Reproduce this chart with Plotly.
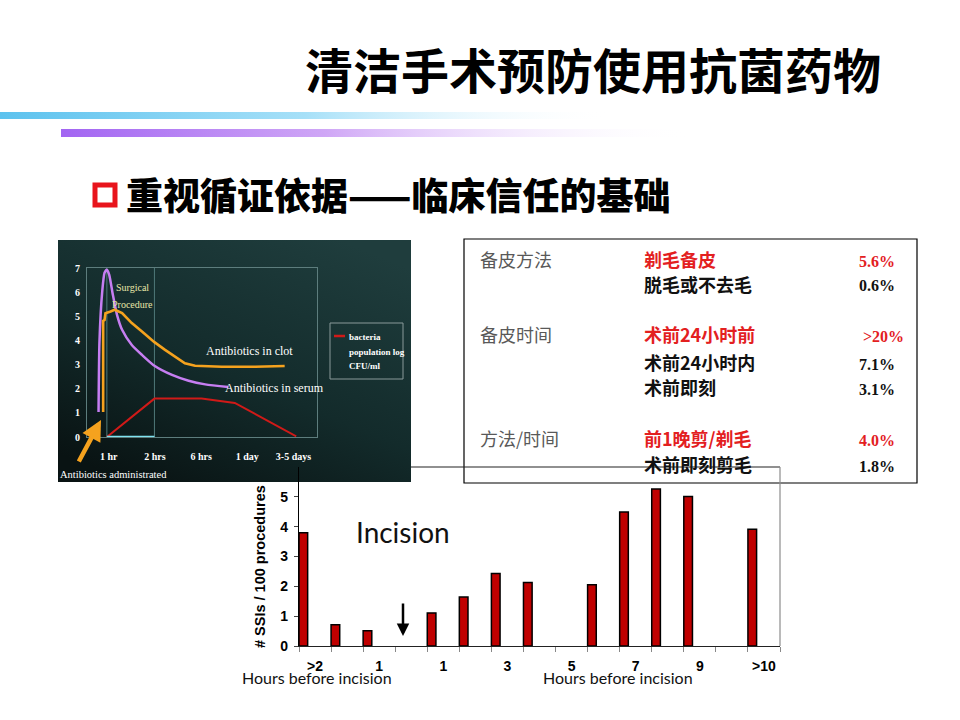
import base64
import plotly.graph_objects as go

W, H = 960, 720

# ---------------- data ----------------
# Bar chart: # SSIs / 100 procedures by timing slot
slot_index = [0, 1, 2, 4, 5, 6, 7, 9, 10, 11, 12, 14]
ssi_values = [3.8, 0.71, 0.51, 1.11, 1.64, 2.43, 2.13, 2.05, 4.49, 5.26, 5.01, 3.91]
slot_label_pos = [0.5, 2.5, 4.5, 6.5, 8.5, 10.5, 12.5, 14.5]
slot_labels = [">2", "1", "1", "3", "5", "7", "9", ">10"]
y_ticks = [0, 1, 2, 3, 4, 5]

# Inset chart: time categories
time_labels = ["1 hr", "2 hrs", "6 hrs", "1 day", "3-5 days"]
time_pos = [0, 1, 2, 3, 4]
serum_x = [-0.22, -0.20, -0.14, -0.09, -0.04, 0.01, 0.09, 0.18, 0.29, 0.50, 0.72, 0.99, 1.37, 1.73, 2.09, 2.59]
serum_y = [1.04, 3.95, 6.03, 6.80, 6.93, 6.73, 5.89, 5.06, 4.44, 3.81, 3.40, 2.95, 2.57, 2.33, 2.18, 2.07]
clot_x = [-0.12, -0.12, -0.09, -0.07, 0.04, 0.13, 0.29, 0.50, 0.72, 0.99, 1.22, 1.44, 1.65, 1.87, 2.45, 3.17, 3.81]
clot_y = [1.04, 4.81, 4.85, 5.13, 5.20, 5.27, 5.13, 4.72, 4.37, 3.93, 3.61, 3.33, 3.05, 2.95, 2.91, 2.91, 2.94]
bact_x = [-0.04, 0.99, 2.01, 2.73, 4.06]
bact_y = [0.0, 1.59, 1.59, 1.41, 0.03]
proc_x = [-0.04, 0.99]
proc_y = [0, 0]

# Table
table_groups = ["备皮方法", "备皮时间", "方法/时间"]
table_items = ["剃毛备皮", "脱毛或不去毛", "术前24小时前", "术前24小时内", "术前即刻", "前1晚剪/剃毛", "术前即刻剪毛"]
table_rates = ["5.6%", "0.6%", ">20%", "7.1%", "3.1%", "4.0%", "1.8%"]
table_highlight = [True, False, True, False, False, True, False]


def P(x, y):
    return x / W, 1 - y / H


def svg_uri(svg):
    return "data:image/svg+xml;base64," + base64.b64encode(svg.encode()).decode()


def hgrad(stops):
    st = "".join(f'<stop offset="{o}" stop-color="{c}" stop-opacity="{a}"/>' for o, c, a in stops)
    return svg_uri(
        '<svg xmlns="http://www.w3.org/2000/svg" width="100" height="10" preserveAspectRatio="none">'
        f'<defs><linearGradient id="g" x1="0" y1="0" x2="1" y2="0">{st}</linearGradient></defs>'
        '<rect width="100" height="10" fill="url(#g)"/></svg>')


def img(src, x0, y0, x1, y1):
    x, y = P(x0, y0)
    return dict(source=src, xref="paper", yref="paper", x=x, y=y,
                sizex=(x1 - x0) / W, sizey=(y1 - y0) / H, xanchor="left", yanchor="top",
                sizing="stretch", layer="below")


dark_bg = svg_uri(
    '<svg xmlns="http://www.w3.org/2000/svg" width="100" height="100" preserveAspectRatio="none">'
    '<defs><linearGradient id="d" x1="0.8" y1="0" x2="0.2" y2="1">'
    '<stop offset="0" stop-color="#1f3d3d"/><stop offset="0.55" stop-color="#132b2b"/>'
    '<stop offset="1" stop-color="#091313"/></linearGradient></defs>'
    '<rect width="100" height="100" fill="url(#d)"/></svg>')

images = [
    img(hgrad([(0, "#5cc2ee", 1), (0.5, "#a6e0f8", 1), (1, "#ffffff", 0)]), 0, 112, 610, 119),
    img(hgrad([(0, "#a265f2", 1), (0.42, "#cfa6f6", 1), (1, "#ffffff", 0)]), 61, 129, 690, 137),
    img(dark_bg, 58, 240, 411, 482),
]

fig = go.Figure()

# ---------------- bar chart ----------------
fig.add_trace(go.Bar(
    x=slot_index, y=ssi_values, offset=0, width=0.27,
    marker=dict(color="#c00000", line=dict(color="#000000", width=1.5)),
    xaxis="x", yaxis="y", showlegend=False, hoverinfo="skip"))

# ---------------- inset chart ----------------
fig.add_trace(go.Scatter(x=serum_x, y=serum_y, mode="lines", line=dict(color="#c67ef2", width=2.5, shape="spline", smoothing=0.6),
                         xaxis="x2", yaxis="y2", showlegend=False, hoverinfo="skip"))
fig.add_trace(go.Scatter(x=clot_x, y=clot_y, mode="lines", line=dict(color="#f5a21e", width=2.6),
                         xaxis="x2", yaxis="y2", showlegend=False, hoverinfo="skip"))
fig.add_trace(go.Scatter(x=bact_x, y=bact_y, mode="lines", line=dict(color="#d01a18", width=2),
                         xaxis="x2", yaxis="y2", showlegend=False, hoverinfo="skip"))
fig.add_trace(go.Scatter(x=proc_x, y=proc_y, mode="lines", line=dict(color="#7fe3f0", width=2.5),
                         xaxis="x2", yaxis="y2", showlegend=False, hoverinfo="skip"))

bx0, by0 = P(299, 646)
bx1, by1 = P(780, 467)
ix0, iy0 = P(87, 437)
ix1, iy1 = P(317, 268)

fig.update_layout(
    width=W, height=H, margin=dict(l=0, r=0, t=0, b=0, pad=0, autoexpand=False),
    paper_bgcolor="#ffffff", plot_bgcolor="rgba(0,0,0,0)",
    images=images,
    xaxis=dict(domain=[bx0, bx1], range=[0, 15], anchor="y", automargin=False,
               tickmode="array", tickvals=slot_label_pos, ticktext=slot_labels,
               ticks="", showgrid=False, zeroline=False,
               showline=True, linecolor="#222222", linewidth=1.2,
               tickfont=dict(family="Liberation Sans", size=14, color="#000000", weight="bold"),
               ticklabelstandoff=7,
               minor=dict(tickmode="linear", tick0=0, dtick=1, ticks="outside", ticklen=5,
                          tickcolor="#888888", tickwidth=1, showgrid=False)),
    yaxis=dict(domain=[by0, by1], range=[0, 6], anchor="x", automargin=False,
               tickmode="array", tickvals=y_ticks, ticks="outside", ticklen=4, tickcolor="#444",
               showgrid=False, zeroline=False, showline=True, linecolor="#000000", linewidth=1.2,
               ticklabelstandoff=3,
               tickfont=dict(family="Liberation Sans", size=14, color="#000000", weight="bold")),
    xaxis2=dict(domain=[ix0, ix1], range=[-0.47, 4.51], anchor="y2", automargin=False,
                tickmode="array", tickvals=time_pos, ticktext=time_labels, ticks="",
                showgrid=False, zeroline=False, showline=True, mirror=True,
                linecolor="#5d7d7d", linewidth=1, ticklabelstandoff=10,
                tickfont=dict(family="Liberation Serif", size=10, color="#ffffff", weight="bold")),
    yaxis2=dict(domain=[iy0, iy1], range=[0, 7], anchor="x2", automargin=False,
                tickmode="array", tickvals=[0, 1, 2, 3, 4, 5, 6, 7], ticks="",
                showgrid=False, zeroline=False, showline=True, mirror=True,
                linecolor="#5d7d7d", linewidth=1, ticklabelstandoff=4,
                tickfont=dict(family="Liberation Serif", size=10, color="#ffffff", weight="bold")),
)

shapes = []
# inset vertical guide lines
for xv in proc_x:
    shapes.append(dict(type="line", xref="x2", yref="y2", x0=xv, x1=xv, y0=0, y1=7,
                       line=dict(color="#4f7a7a", width=1), layer="below"))
# inset legend box
lx0, ly0 = P(330, 323)
lx1, ly1 = P(403, 379)
shapes.append(dict(type="rect", xref="paper", yref="paper", x0=lx0, y0=ly1, x1=lx1, y1=ly0,
                   line=dict(color="#8a9a9a", width=1), fillcolor="rgba(0,0,0,0)"))
sx0, sy = P(334, 336)
sx1, _ = P(345, 336)
shapes.append(dict(type="line", xref="paper", yref="paper", x0=sx0, x1=sx1, y0=sy, y1=sy,
                   line=dict(color="#d01a18", width=2.5)))
# table box
tx0, ty0 = P(464, 239)
tx1, ty1 = P(917, 483)
shapes.append(dict(type="rect", xref="paper", yref="paper", x0=tx0, y0=ty1, x1=tx1, y1=ty0,
                   line=dict(color="#000000", width=1.2), fillcolor="rgba(0,0,0,0)", layer="below"))
# bar chart top / right border
a0, a1 = P(411, 467)
b0, b1 = P(780, 467)
shapes.append(dict(type="line", xref="paper", yref="paper", x0=a0, y0=a1, x1=b0, y1=b1,
                   line=dict(color="#222222", width=1.2)))
c0, c1 = P(780, 646)
shapes.append(dict(type="line", xref="paper", yref="paper", x0=b0, y0=b1, x1=c0, y1=c1,
                   line=dict(color="#8c8c8c", width=1.2)))
# red bullet square
q0x, q0y = P(95, 185)
q1x, q1y = P(115, 205)
shapes.append(dict(type="rect", xref="paper", yref="paper", x0=q0x, y0=q1y, x1=q1x, y1=q0y,
                   line=dict(color="#e8141c", width=5), fillcolor="#ffffff"))
fig.update_layout(shapes=shapes)

ann = []


def text(x, y, s, size, color="#000000", family="Noto Sans CJK SC", anchor="center", weight="normal", angle=0):
    px, py = P(x, y)
    ann.append(dict(xref="paper", yref="paper", x=px, y=py, text=s, showarrow=False,
                    xanchor=anchor, yanchor="middle", textangle=angle,
                    font=dict(family=family, size=size, color=color, weight=weight)))


# headings
text(883, 68, "清洁手术预防使用抗菌药物", 48, anchor="right", weight="bold")
text(124, 194, "重视循证依据——临床信任的基础", 37, anchor="left", weight=900)

# table
RED = "#e3201f"
GRAY = "#595959"
group_rows = [259, 334, 438]
item_rows = [259, 284, 334, 362, 387, 438, 464]
for g, yy in zip(table_groups, group_rows):
    text(478, yy, g, 18, color=GRAY, anchor="left")
for it, rt, hi, yy in zip(table_items, table_rates, table_highlight, item_rows):
    col = RED if hi else "#111111"
    text(642, yy, it, 18, color=col, anchor="left", weight="bold")
    text(897 if not rt.startswith(">") else 906, yy + 2, rt, 16, color=col,
         family="Liberation Serif", anchor="right", weight="bold")

# inset texts
text(132, 287, "Surgical", 10, color="#e8e6a8", family="Liberation Serif")
text(132, 304, "Procedure", 10, color="#e8e6a8", family="Liberation Serif")
text(249, 351, "Antibiotics in clot", 12, color="#ffffff", family="Liberation Serif")
text(274, 388, "Antibiotics in serum", 12, color="#ffffff", family="Liberation Serif")
text(347, 337, "bacteria", 9, color="#ffffff", family="Liberation Serif", anchor="left", weight="bold")
text(347, 352, "population log", 9, color="#ffffff", family="Liberation Serif", anchor="left", weight="bold")
text(347, 366, "CFU/ml", 9, color="#ffffff", family="Liberation Serif", anchor="left", weight="bold")
text(113, 474, "Antibiotics administrated", 10.5, color="#ffffff", family="Liberation Serif")

# orange arrow in inset
hx, hy = P(101, 420)
ann.append(dict(xref="paper", yref="paper", x=hx, y=hy, text="", showarrow=True,
                ax=-23, ay=43, arrowhead=2, arrowsize=0.9, arrowwidth=4.5, arrowcolor="#f5a21e"))

# bar chart texts
text(260, 567, "# SSIs / 100 procedures", 14.5, family="Liberation Sans", weight="bold", angle=-90)
text(403, 532, "Incision", 28, color="#111111", family="Lato")
text(317, 677, "Hours before incision", 16, color="#111111", family="Lato")
text(618, 677, "Hours before incision", 16, color="#111111", family="Lato")
dx, dy = P(403, 636)
ann.append(dict(xref="paper", yref="paper", x=dx, y=dy, text="", showarrow=True,
                ax=0, ay=-34, arrowhead=2, arrowsize=1, arrowwidth=2.5, arrowcolor="#000000"))

fig.update_layout(annotations=ann)
fig.write_html("out.html")
